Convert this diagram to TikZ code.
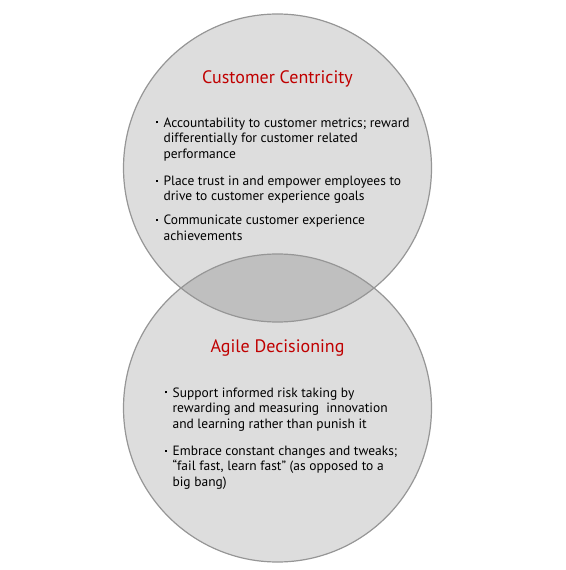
\documentclass[tikz,border=0pt]{standalone}
\usepackage{fontspec}
\setmainfont{PT Sans}
\usetikzlibrary{positioning}
\definecolor{vennfill}{RGB}{221,221,221}
\definecolor{vennover}{RGB}{191,191,191}
\definecolor{vennline}{RGB}{150,150,150}
\definecolor{accent}{RGB}{192,0,0}
\newcommand{\itm}[1]{\makebox[5.5pt][l]{\raisebox{2.8pt}{\rule{1.5pt}{1.5pt}}}%
  \parbox[t]{200pt}{\raggedright\strut #1\strut}}

\begin{document}
\begin{tikzpicture}[
  x=0.75pt,y=-0.75pt,
  set/.style={circle,draw=vennline,line width=0.9pt,minimum size=231pt,inner sep=0pt},
  head/.style={text=accent,font=\fontsize{13.5}{16}\selectfont},
  pts/.style={anchor=north west,inner sep=0pt,font=\fontsize{10.1}{11.6}\selectfont},
  gap/.style={below=8.6pt of #1.south west,anchor=north west},
]
\useasboundingbox (0,0) rectangle (565,570);
% Sets
\fill[vennfill] (277.5,168) circle (154) (277.5,408) circle (154);
\begin{scope}
  \clip (277.5,168) circle (154);
  \fill[vennover] (277.5,408) circle (154);
\end{scope}
\node[set] (cc) at (277.5,168) {};
\node[set] (ad) at (277.5,408) {};
% Customer Centricity
\node[head] (cctitle) at (277.5,79) {Customer Centricity};
\node[pts] (cc1) at (156,116) {\itm{Accountability to customer metrics; reward\\ differentially for customer related\\ performance}};
\node[pts,gap=cc1] (cc2) {\itm{Place trust in and empower employees to\\ drive to customer experience goals}};
\node[pts,below=6pt of cc2.south west,anchor=north west] (cc3) {\itm{Communicate customer experience\\ achievements}};
% Agile Decisioning
\node[head] (adtitle) at (277.5,348) {Agile Decisioning};
\node[pts] (ad1) at (165,386) {\itm{Support informed risk taking by\\ rewarding and measuring\ \ innovation\\ and learning rather than punish it}};
\node[pts,gap=ad1] (ad2) {\itm{Embrace constant changes and tweaks;\\ “fail fast, learn fast” (as opposed to a\\ big bang)}};
\end{tikzpicture}
\end{document}
